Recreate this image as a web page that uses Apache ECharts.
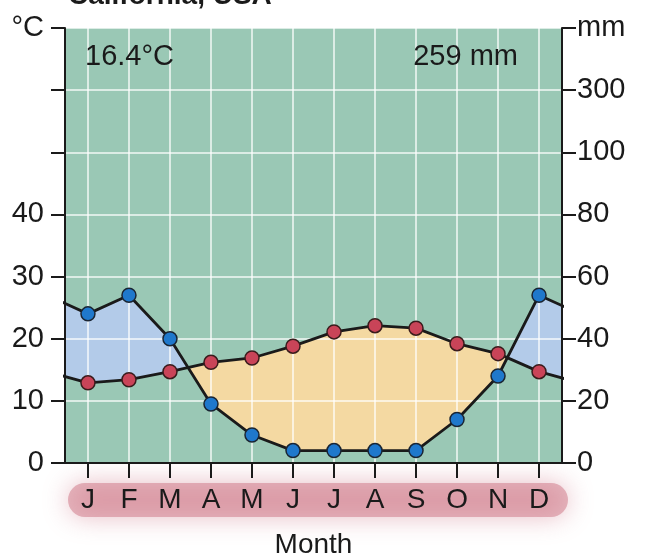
<!DOCTYPE html>
<html>
<head>
<meta charset="utf-8">
<script src="https://cdn.jsdelivr.net/npm/echarts@6/dist/echarts.min.js"></script>
<style>html,body{margin:0;padding:0;background:#fff}#c{width:651px;height:558px}</style>
</head>
<body>
<div id="c"></div>
<script>
// ---- data ----
const months = ['J','F','M','A','M','J','J','A','S','O','N','D'];
const temperature = [12.9, 13.4, 14.7, 16.2, 16.9, 18.8, 21.1, 22.1, 21.7, 19.2, 17.6, 14.7]; // °C
const precipitation = [48, 54, 40, 19, 9, 4, 4, 4, 4, 14, 28, 54]; // mm
const tempTicks = ['0','10','20','30','40','','','°C'];
const precTicks = ['0','20','40','60','80','100','300','mm'];
const meanTemp = '16.4°C';
const totalPrec = '259 mm';
const title = 'California, USA';

// ---- styles ----
const GREEN = '#9ac8b5', BLUE_FILL = '#b3cbe9', YELLOW_FILL = '#f4d9a2';
const FONT = 'Liberation Sans, Arial, sans-serif';
const INK = '#1a1a1a';

// wrap-around (previous December / next January) so lines reach the plot edges
const xs = months.map((m, i) => i + 1);
const tExt = [temperature[11], ...temperature, temperature[0]];
const pExt = [precipitation[11], ...precipitation, precipitation[0]];
const tempData = tExt.map((v, i) => [i, v]);
const precData = pExt.map((v, i) => [i, v]);
const segData = tExt.slice(1).map((v, i) => [i, tExt[i]]);

function renderFill(params, api) {
  const i = api.value(0);
  const t0 = tExt[i], t1 = tExt[i + 1];
  const p0 = pExt[i] / 2, p1 = pExt[i + 1] / 2; // 20 mm = 10 °C
  const d0 = p0 - t0, d1 = p1 - t1;
  const mk = (pts, humid) => ({
    type: 'polygon',
    shape: { points: pts.map(q => api.coord(q)) },
    style: { fill: humid ? BLUE_FILL : YELLOW_FILL, stroke: null }
  });
  const children = [];
  if (d0 * d1 >= 0) {
    children.push(mk([[i, t0], [i + 1, t1], [i + 1, p1], [i, p0]], d0 + d1 > 0));
  } else {
    const f = d0 / (d0 - d1);
    const xc = i + f, yc = t0 + f * (t1 - t0);
    children.push(mk([[i, t0], [xc, yc], [i, p0]], d0 > 0));
    children.push(mk([[xc, yc], [i + 1, t1], [i + 1, p1]], d1 > 0));
  }
  return { type: 'group', children };
}

const chart = echarts.init(document.getElementById('c'), null, { renderer: 'canvas' });
chart.setOption({
  animation: false,
  textStyle: { fontFamily: FONT },
  grid: { left: 65, right: 89, top: 28, bottom: 95, containLabel: false, outerBoundsMode: 'none' },
  graphic: [
    { type: 'rect', z: -10, shape: { x: 68, y: 483, width: 500, height: 34, r: 17 },
      style: { fill: 'rgba(206,116,132,0.5)', shadowBlur: 26, shadowColor: 'rgba(206,116,132,0.95)' } },
    { type: 'text', x: 68, y: 10, style: { text: title, font: 'bold 28px ' + FONT, fill: INK, verticalAlign: 'bottom' } },
    { type: 'text', x: 85, y: 57, z: 10, style: { text: meanTemp, font: '29px ' + FONT, fill: INK, verticalAlign: 'middle' } },
    { type: 'text', x: 518, y: 57, z: 10, style: { text: totalPrec, font: '29px ' + FONT, fill: INK, align: 'right', verticalAlign: 'middle' } }
  ],
  xAxis: {
    type: 'value', min: 0.44, max: 12.56,
    name: 'Month', nameLocation: 'middle', nameGap: 68,
    nameTextStyle: { fontSize: 28, color: INK, fontFamily: FONT },
    axisLine: { show: true, lineStyle: { color: INK, width: 2 } },
    axisTick: { show: true, customValues: xs, length: 15, lineStyle: { color: INK, width: 2 } },
    axisLabel: { customValues: xs, formatter: v => months[Math.round(v) - 1] || '', fontSize: 28, color: INK, margin: 23, fontFamily: FONT },
    splitLine: { show: true, lineStyle: { color: 'rgba(255,255,255,0.65)', width: 2 } }
  },
  yAxis: [
    { type: 'value', min: 0, max: 70, interval: 10, position: 'left',
      axisLine: { show: true, lineStyle: { color: INK, width: 2 } },
      axisTick: { show: true, length: 14, lineStyle: { color: INK, width: 2 } },
      axisLabel: { formatter: (v) => tempTicks[Math.round(v / 10)], fontSize: 29, color: INK, margin: 21, fontFamily: FONT },
      splitLine: { show: true, lineStyle: { color: 'rgba(255,255,255,0.65)', width: 2 } } },
    { type: 'value', min: 0, max: 140, interval: 20, position: 'right',
      axisLine: { show: true, lineStyle: { color: INK, width: 2 } },
      axisTick: { show: true, length: 14, lineStyle: { color: INK, width: 2 } },
      axisLabel: { formatter: (v) => precTicks[Math.round(v / 20)], fontSize: 29, color: INK, margin: 15, fontFamily: FONT },
      splitLine: { show: false } }
  ],
  series: [
    { type: 'custom', z: -3, silent: true, data: [[1, 0]],
      renderItem: (params) => ({ type: 'rect', shape: { x: params.coordSys.x, y: params.coordSys.y, width: params.coordSys.width, height: params.coordSys.height }, style: { fill: GREEN } }) },
    { type: 'custom', z: -2, silent: true, clip: true, data: segData, encode: { x: 0, y: 1 }, renderItem: renderFill },
    { name: 'Precipitation', type: 'line', yAxisIndex: 1, data: precData, clip: true, z: 3,
      symbol: 'circle', symbolSize: 14, showAllSymbol: true,
      lineStyle: { color: INK, width: 2.8 },
      itemStyle: { color: '#1f78cc', borderColor: '#1a2533', borderWidth: 1.5 } },
    { name: 'Temperature', type: 'line', yAxisIndex: 0, data: tempData, clip: true, z: 4,
      symbol: 'circle', symbolSize: 14, showAllSymbol: true,
      lineStyle: { color: INK, width: 2.8 },
      itemStyle: { color: '#c94458', borderColor: '#3a1c1c', borderWidth: 1.5 } }
  ]
});
</script>
</body>
</html>
